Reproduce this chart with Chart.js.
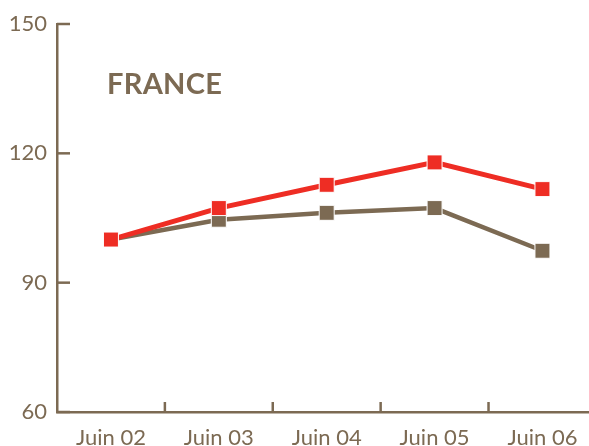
<!DOCTYPE html>
<html>
<head>
<meta charset="utf-8">
<script src="https://cdn.jsdelivr.net/npm/chart.js@4"></script>
<style>
  html, body { margin: 0; padding: 0; background: #fff; overflow: hidden; }
  body { width: 589px; height: 446px; position: relative; }
  #wrap { position: absolute; left: 0; top: 0; width: 608px; height: 446px; }
  #titre { position: absolute; left: 107px; top: 65px; font-family: Lato, "Open Sans", sans-serif;
           font-weight: bold; font-size: 29px; color: #7c6a53; letter-spacing: 0.3px; }
</style>
</head>
<body>
<div id="wrap"><canvas id="chart"></canvas></div>
<div id="titre">FRANCE</div>
<script>
// données
const annees = ["Juin 02", "Juin 03", "Juin 04", "Juin 05", "Juin 06"];
const serieRouge = [100, 107.3, 112.7, 117.9, 111.7];
const serieBrune = [100, 104.6, 106.2, 107.3, 97.4];
const yTicks = [60, 90, 120, 150];

const brun = "#7c6a53";
const rouge = "#ee2d24";

// petits traits de graduation tournés vers l'intérieur
const graduations = {
  id: "graduations",
  afterDraw(chart) {
    const ctx = chart.ctx;
    const x = chart.scales.x;
    const y = chart.scales.y;
    const area = chart.chartArea;
    ctx.save();
    ctx.strokeStyle = brun;
    ctx.lineWidth = 2.5;
    yTicks.forEach((v) => {
      const py = y.getPixelForValue(v);
      ctx.beginPath();
      ctx.moveTo(area.left, py);
      ctx.lineTo(area.left + 13, py);
      ctx.stroke();
    });
    for (let i = 1; i < annees.length; i++) {
      const px = (x.getPixelForValue(i - 1) + x.getPixelForValue(i)) / 2;
      ctx.beginPath();
      ctx.moveTo(px, area.bottom);
      ctx.lineTo(px, area.bottom - 10);
      ctx.stroke();
    }
    ctx.restore();
  },
};

const ctx = document.getElementById("chart").getContext("2d");
const chart = new Chart(ctx, {
  type: "line",
  data: {
    labels: annees,
    datasets: [
      {
        data: serieRouge,
        borderColor: rouge,
        backgroundColor: rouge,
        borderWidth: 5,
        pointStyle: "rect",
        pointRadius: 10.6,
        pointBorderColor: "#fff",
        pointBorderWidth: 1,
        tension: 0,
      },
      {
        data: serieBrune,
        borderColor: brun,
        backgroundColor: brun,
        borderWidth: 4.5,
        pointStyle: "rect",
        pointRadius: 10.6,
        pointBorderColor: "#fff",
        pointBorderWidth: 1,
        tension: 0,
      },
    ],
  },
  options: {
    responsive: true,
    maintainAspectRatio: false,
    animation: false,
    layout: { padding: { top: 24, right: 0, left: 0, bottom: 0 } },
    plugins: {
      legend: { display: false },
      tooltip: { enabled: false },
    },
    scales: {
      x: {
        offset: true,
        grid: { display: false, drawTicks: false },
        border: { display: true, color: brun, width: 2.5 },
        ticks: {
          color: brun,
          padding: 13,
          maxRotation: 0,
          font: { family: "Lato, 'Open Sans', sans-serif", size: 22 },
        },
        afterFit(scale) { scale.height = 34; },
      },
      y: {
        min: 60,
        max: 150,
        afterBuildTicks(scale) { scale.ticks = yTicks.map((v) => ({ value: v })); },
        grid: { display: false, drawTicks: false },
        border: { display: true, color: brun, width: 2.5 },
        ticks: {
          color: brun,
          padding: 10,
          font: { family: "Lato, 'Open Sans', sans-serif", size: 22 },
        },
        afterFit(scale) { scale.width = 57; },
      },
    },
  },
  plugins: [graduations],
});
</script>
</body>
</html>
